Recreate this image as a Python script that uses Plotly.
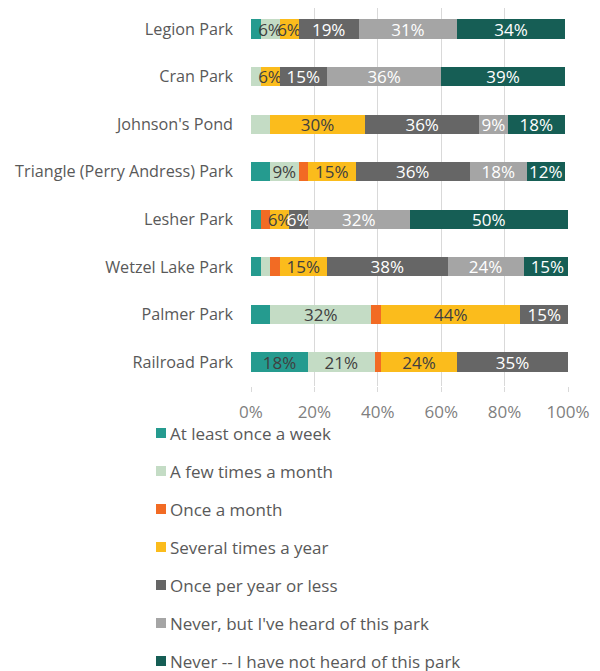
import plotly.graph_objects as go

categories = ["Legion Park", "Cran Park", "Johnson's Pond", "Triangle (Perry Andress) Park",
              "Lesher Park", "Wetzel Lake Park", "Palmer Park", "Railroad Park"]

series_names = ["At least once a week", "A few times a month", "Once a month",
                "Several times a year", "Once per year or less",
                "Never, but I've heard of this park", "Never -- I have not heard of this park"]

weekly = [3, 0, 0, 6, 3, 3, 6, 18]
few_month = [6, 3, 6, 9, 0, 3, 32, 21]
monthly = [0, 0, 0, 3, 3, 3, 3, 2]
several_year = [6, 6, 30, 15, 6, 15, 44, 24]
once_year = [19, 15, 36, 36, 6, 38, 15, 35]
heard = [31, 36, 9, 18, 32, 24, 0, 0]
not_heard = [34, 39, 18, 12, 50, 15, 0, 0]

# which data labels are displayed (1 = shown)
show_weekly = [0, 0, 0, 0, 0, 0, 0, 1]
show_few = [1, 0, 0, 1, 0, 0, 1, 1]
show_monthly = [0, 0, 0, 0, 0, 0, 0, 0]
show_several = [1, 1, 1, 1, 1, 1, 1, 1]
show_once = [1, 1, 1, 1, 1, 1, 1, 1]
show_heard = [1, 1, 1, 1, 1, 1, 0, 0]
show_not = [1, 1, 1, 1, 1, 1, 0, 0]

x_ticks = [0, 20, 40, 60, 80, 100]
x_tick_labels = ["0%", "20%", "40%", "60%", "80%", "100%"]

colors = ["#259B8F", "#C4DCC5", "#F26B24", "#FBBC1C", "#666666", "#A5A5A5", "#165E55"]
label_colors = ["#404040", "#404040", "#404040", "#404040", "#FFFFFF", "#FFFFFF", "#FFFFFF"]

all_values = [weekly, few_month, monthly, several_year, once_year, heard, not_heard]
all_show = [show_weekly, show_few, show_monthly, show_several, show_once, show_heard, show_not]

FONT = "Open Sans"
# the page has an 8px body margin, so the figure is laid out 8px smaller
OFF = 8
W, H = 600 - OFF, 671 - OFF
ML, MT = 251 - OFF, 0
PW = 568 - 251
PH = 386 - OFF - MT
MR = W - ML - PW
MB = H - MT - PH

# vertical category range so that rows sit where the reference shows them
row_step = (362 - 29) / 7
y_top = -(29 - OFF - MT) / row_step
y_bot = (len(categories) - 1) + (386 - 362) / row_step

fig = go.Figure()
for i, (name, vals, shows) in enumerate(zip(series_names, all_values, all_show)):
    texts = [f"{v}%" if s and v > 0 else "" for v, s in zip(vals, shows)]
    fig.add_trace(go.Bar(
        y=categories, x=vals, name=name, orientation="h",
        marker=dict(color=colors[i], line=dict(width=0)),
        text=texts, textposition="inside", insidetextanchor="middle",
        textangle=0, constraintext="none",
        textfont=dict(family=FONT, size=17, color=label_colors[i]),
        hoverinfo="skip", showlegend=False,
    ))

def px_to_paper_x(px):
    return (px - OFF - ML) / PW

def px_to_paper_y(py):
    return (MT + PH - (py - OFF)) / PH

# manual legend (vertical list below the chart)
shapes = []
annotations = []
leg_top = 433
leg_step = 38
for i, name in enumerate(series_names):
    cy = leg_top + i * leg_step
    shapes.append(dict(
        type="rect", xref="paper", yref="paper",
        x0=px_to_paper_x(156), x1=px_to_paper_x(166),
        y0=px_to_paper_y(cy - 5), y1=px_to_paper_y(cy + 5),
        fillcolor=colors[i], line=dict(width=0),
    ))
    annotations.append(dict(
        xref="paper", yref="paper", x=px_to_paper_x(168), y=px_to_paper_y(cy),
        xanchor="left", yanchor="middle", text=name, showarrow=False,
        font=dict(family=FONT, size=17, color="#595959"),
    ))

fig.update_layout(
    width=W, height=H,
    barmode="stack", bargap=0.6,
    paper_bgcolor="white", plot_bgcolor="white",
    margin=dict(l=ML, r=MR, t=MT, b=MB, autoexpand=False),
    font=dict(family=FONT, size=16, color="#595959"),
    showlegend=False,
    shapes=shapes,
    annotations=annotations,
    xaxis=dict(
        range=[0, 100], tickvals=x_ticks, ticktext=x_tick_labels,
        showgrid=True, gridcolor="#D9D9D9", gridwidth=1,
        zeroline=False, showline=False,
        ticks="outside", ticklen=5, tickcolor="#D9D9D9",
        ticklabelstandoff=6, automargin=False,
        tickfont=dict(family=FONT, size=17, color="#7F7F7F"),
        fixedrange=True,
    ),
    yaxis=dict(
        range=[y_bot, y_top], showgrid=False, zeroline=False, showline=False,
        ticks="", ticklabelstandoff=17, automargin=False,
        tickfont=dict(family=FONT, size=16.2, color="#595959"),
    ),
)

fig.write_html("out.html")
